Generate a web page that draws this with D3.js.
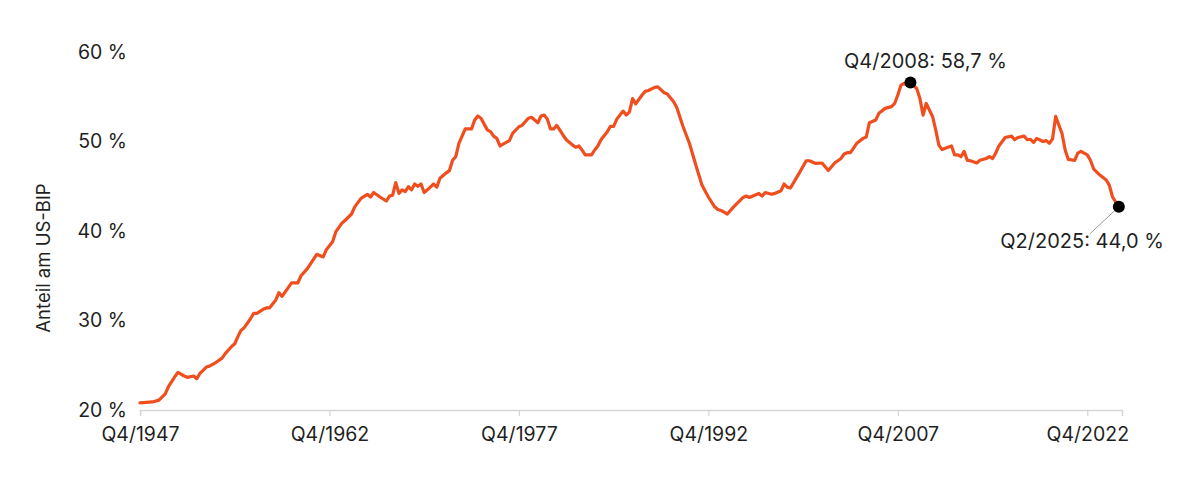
<!DOCTYPE html>
<html>
<head>
<meta charset="utf-8">
<script src="https://cdn.jsdelivr.net/npm/d3@7"></script>
<style>
  html, body { margin: 0; padding: 0; background: #fff; }
  svg { display: block; font-family: Inter, "Open Sans", sans-serif; }
</style>
</head>
<body>
<svg id="chart" width="1200" height="489"></svg>
<script>
// ---- data ----
const quarters = [
  "Q4/1947","Q4/1948","Q2/1949","Q4/1949","Q1/1950","Q3/1950","Q4/1950","Q2/1951","Q3/1951","Q1/1952",
  "Q2/1952","Q3/1952","Q1/1953","Q2/1953","Q4/1953","Q2/1954","Q3/1954","Q1/1955","Q2/1955","Q3/1955",
  "Q4/1955","Q1/1956","Q3/1956","Q4/1956","Q1/1957","Q3/1957","Q4/1957","Q1/1958","Q3/1958","Q4/1958",
  "Q1/1959","Q4/1959","Q2/1960","Q3/1960","Q1/1961","Q4/1961","Q2/1962","Q3/1962","Q1/1963","Q2/1963",
  "Q4/1963","Q1/1964","Q3/1964","Q4/1964","Q2/1965","Q4/1965","Q1/1966","Q2/1966","Q4/1966","Q2/1967",
  "Q3/1967","Q4/1967","Q1/1968","Q2/1968","Q3/1968","Q4/1968","Q1/1969","Q2/1969","Q3/1969","Q4/1969",
  "Q1/1970","Q2/1970","Q3/1970","Q1/1971","Q2/1971","Q3/1971","Q1/1972","Q2/1972","Q3/1972","Q4/1972",
  "Q1/1973","Q3/1973","Q1/1974","Q2/1974","Q3/1974","Q4/1974","Q2/1975","Q3/1975","Q4/1975","Q1/1976",
  "Q2/1976","Q3/1976","Q1/1977","Q2/1977","Q4/1977","Q1/1978","Q3/1978","Q4/1978","Q2/1979","Q3/1979",
  "Q4/1979","Q1/1980","Q2/1980","Q3/1980","Q4/1980","Q2/1981","Q3/1981","Q1/1982","Q2/1982","Q3/1982",
  "Q4/1982","Q1/1983","Q3/1983","Q4/1983","Q1/1984","Q2/1984","Q4/1984","Q1/1985","Q2/1985","Q3/1985",
  "Q1/1986","Q2/1986","Q3/1986","Q4/1986","Q1/1987","Q3/1987","Q4/1987","Q1/1988","Q3/1988","Q4/1988",
  "Q2/1989","Q3/1989","Q1/1990","Q2/1990","Q4/1990","Q2/1991","Q4/1991","Q2/1992","Q4/1992","Q2/1993",
  "Q3/1993","Q4/1993","Q2/1994","Q4/1994","Q3/1995","Q4/1995","Q1/1996","Q4/1996","Q1/1997","Q2/1997",
  "Q4/1997","Q1/1998","Q3/1998","Q4/1998","Q1/1999","Q2/1999","Q1/2000","Q3/2000","Q4/2000","Q2/2001",
  "Q4/2001","Q2/2002","Q4/2002","Q2/2003","Q3/2003","Q4/2003","Q1/2004","Q3/2004","Q1/2005","Q2/2005",
  "Q3/2005","Q1/2006","Q2/2006","Q4/2006","Q2/2007","Q3/2007","Q4/2007","Q1/2008","Q2/2008","Q3/2008",
  "Q4/2008","Q2/2009","Q3/2009","Q4/2009","Q1/2010","Q3/2010","Q4/2010","Q1/2011","Q2/2011","Q3/2011",
  "Q1/2012","Q2/2012","Q3/2012","Q4/2012","Q1/2013","Q2/2013","Q3/2013","Q1/2014","Q2/2014","Q4/2014",
  "Q1/2015","Q2/2015","Q3/2015","Q4/2015","Q2/2016","Q4/2016","Q1/2017","Q2/2017","Q4/2017","Q1/2018",
  "Q2/2018","Q3/2018","Q4/2018","Q2/2019","Q3/2019","Q4/2019","Q1/2020","Q2/2020","Q3/2020","Q4/2020",
  "Q1/2021","Q2/2021","Q4/2021","Q1/2022","Q2/2022","Q4/2022","Q1/2023","Q2/2023","Q4/2023","Q2/2024",
  "Q3/2024","Q4/2024","Q2/2025"
];
const shares = [
  20.8,20.9,21.1,21.8,22.6,23.7,24.2,23.8,23.65,23.8,
  23.5,24.1,24.8,24.9,25.3,25.8,26.3,27.1,27.4,28.2,
  28.9,29.2,30.2,30.8,30.8,31.25,31.4,31.4,32.3,33.1,
  32.7,34.2,34.2,35.0,35.8,37.4,37.1,37.9,38.8,39.9,
  40.9,41.2,41.9,42.7,43.65,44.1,43.8,44.3,43.8,43.35,
  43.9,44.0,45.4,44.2,44.6,44.4,44.95,44.6,45.25,45.0,
  45.25,44.3,44.6,45.25,44.9,45.9,46.5,46.75,47.9,48.3,
  49.8,51.4,51.4,52.4,52.85,52.6,51.3,51.1,50.6,50.35,
  49.5,49.7,50.1,50.9,51.65,51.8,52.6,52.7,52.1,52.85,
  52.95,52.5,51.4,51.4,51.8,50.7,50.2,49.6,49.35,49.5,
  49.05,48.5,48.5,49.05,49.5,50.2,51.1,51.7,51.7,52.5,
  53.4,52.95,53.3,54.8,54.2,55.2,55.6,55.7,56.05,56.1,
  55.45,55.3,54.45,53.8,51.65,49.8,47.4,45.1,43.8,42.7,
  42.4,42.3,41.9,42.7,43.75,43.9,43.75,44.2,43.9,44.3,
  44.1,44.2,44.5,45.25,44.9,44.8,46.6,47.85,47.85,47.55,
  47.6,46.75,47.6,48.1,48.6,48.75,48.75,49.8,50.35,50.5,
  52.1,52.4,53.15,53.7,53.9,54.25,55.2,56.3,56.5,56.3,
  56.6,55.9,54.8,52.95,54.25,52.8,51.3,49.6,49.1,49.25,
  49.5,48.5,48.5,48.3,48.9,47.9,47.85,47.6,47.9,48.1,
  48.3,48.1,48.7,49.5,50.45,50.6,50.2,50.45,50.6,50.2,
  50.25,49.9,50.35,50.0,50.1,49.8,50.3,52.8,51.85,50.9,
  49.05,48.0,47.9,48.7,48.9,48.5,47.9,46.95,46.25,45.7,
  45.1,43.8,42.7
];
const xTickLabels = ["Q4/1947","Q4/1962","Q4/1977","Q4/1992","Q4/2007","Q4/2022"];
const yTickValues = [20, 30, 40, 50, 60];
const yTitle = "Anteil am US-BIP";
const annotationQuarters = ["Q4/2008", "Q2/2025"];
const annotationTexts = ["Q4/2008: 58,7 %", "Q2/2025: 44,0 %"];
const axisEndQuarter = "Q3/2025";

// ---- helpers ----
const qIndex = s => { const m = /Q(\d)\/(\d{4})/.exec(s); return (+m[2]) * 4 + (+m[1] - 1); };
const data = quarters.map((q, i) => ({ q, t: qIndex(q), v: shares[i] }));

const svg = d3.select("#chart");
const ink = "#1f1f1f";
const lineColor = "#f04e1e";
const fontFam = "Inter, sans-serif";

const x = d3.scaleLinear()
  .domain([qIndex("Q4/1947"), qIndex(axisEndQuarter)])
  .range([140, 1122]);
const y = d3.scaleLinear().domain([20, 60]).range([410, 52]);

// x axis
const xAxis = d3.axisBottom(x)
  .tickValues(xTickLabels.map(qIndex))
  .tickFormat((d, i) => xTickLabels[i])
  .tickSize(6)
  .tickPadding(11);
const gx = svg.append("g").attr("transform", "translate(0,410)").call(xAxis);
gx.select(".domain").attr("stroke", "#d6d6d6").attr("stroke-width", 1.5);
gx.selectAll(".tick line").attr("stroke", "#d6d6d6").attr("stroke-width", 1.2);
gx.selectAll(".tick text")
  .attr("fill", ink).attr("font-size", 19.5).attr("font-family", fontFam);

// y axis labels
const yAxis = d3.axisLeft(y)
  .tickValues(yTickValues)
  .tickFormat(d => d + " %")
  .tickSize(0)
  .tickPadding(0);
const gy = svg.append("g").attr("transform", "translate(127,0)").call(yAxis);
gy.select(".domain").remove();
gy.selectAll(".tick text")
  .attr("fill", ink).attr("font-size", 19.5).attr("font-family", fontFam);

// y title
svg.append("text")
  .attr("transform", "translate(45,258) rotate(-90)")
  .attr("text-anchor", "middle")
  .attr("dominant-baseline", "middle")
  .attr("font-size", 18.5)
  .attr("fill", ink)
  .text(yTitle);

// line
const line = d3.line().x(d => x(d.t)).y(d => y(d.v)).curve(d3.curveLinear);
svg.append("path")
  .datum(data)
  .attr("fill", "none")
  .attr("stroke", lineColor)
  .attr("stroke-width", 3.2)
  .attr("stroke-linejoin", "round")
  .attr("stroke-linecap", "round")
  .attr("d", line);

// annotations
const a1 = data.find(d => d.q === annotationQuarters[0]);
const a2 = data.find(d => d.q === annotationQuarters[1]);

// leader line for last point
svg.append("line")
  .attr("x1", x(a2.t) - 29).attr("y1", y(a2.v) + 27)
  .attr("x2", x(a2.t)).attr("y2", y(a2.v))
  .attr("stroke", "#9a9a9a").attr("stroke-width", 1);

svg.selectAll("circle.ann")
  .data([a1, a2])
  .join("circle")
  .attr("class", "ann")
  .attr("cx", d => x(d.t))
  .attr("cy", d => y(d.v))
  .attr("r", 6)
  .attr("fill", "#000");

svg.append("text")
  .attr("x", x(a1.t) + 15).attr("y", y(a1.v) - 20)
  .attr("text-anchor", "middle")
  .attr("dominant-baseline", "middle")
  .attr("font-size", 20).attr("fill", ink)
  .text(annotationTexts[0]);

svg.append("text")
  .attr("x", x(a2.t) + 45).attr("y", y(a2.v) + 36)
  .attr("text-anchor", "end")
  .attr("dominant-baseline", "middle")
  .attr("font-size", 20).attr("fill", ink)
  .text(annotationTexts[1]);
</script>
</body>
</html>
